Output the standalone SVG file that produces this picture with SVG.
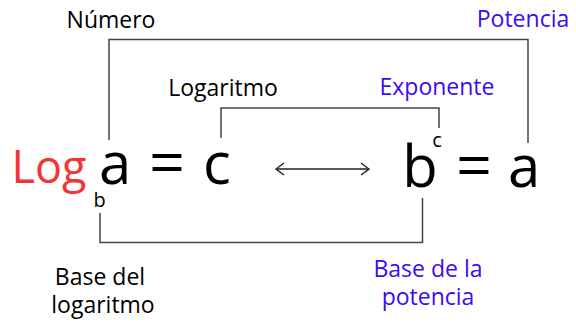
<svg xmlns="http://www.w3.org/2000/svg" width="576" height="322" viewBox="0 0 576 322">
<defs>
<style>
.lbl{font-family:"Open Sans","Noto Sans",sans-serif;font-size:23px;text-anchor:middle}
.blk{fill:#000}
.blu{fill:#3a0cf5}
.math{font-family:"Open Sans","Noto Sans",sans-serif;font-size:58px;fill:#000;text-anchor:middle}
.eq{font-size:63px}
.sm{font-family:"Open Sans","Noto Sans",sans-serif;font-size:20px;fill:#000;text-anchor:middle}
.br{fill:none;stroke:#444;stroke-width:1.5}
</style>
<marker id="ah" viewBox="0 0 10 14" refX="9" refY="7" markerWidth="10" markerHeight="14" markerUnits="userSpaceOnUse" orient="auto-start-reverse">
<path d="M1,1 L9,7 L1,13" fill="none" stroke="#222" stroke-width="1.4"/>
</marker>
</defs>
<rect width="576" height="322" fill="#fff"/>
<g id="connectors">
<path class="br" d="M109,140 V39.5 H528 V143"/>
<path class="br" d="M221,138 V108 H439 V128"/>
<path class="br" d="M100,213 V242.5 H422.5 V198"/>
<line x1="276" y1="169" x2="369" y2="169" stroke="#222" stroke-width="1.4" marker-start="url(#ah)" marker-end="url(#ah)"/>
</g>
<g id="numero"><text class="lbl blk" x="111" y="28">Número</text></g>
<g id="potencia"><text class="lbl blu" x="523" y="27">Potencia</text></g>
<g id="logaritmo"><text class="lbl blk" x="223" y="96">Logaritmo</text></g>
<g id="exponente"><text class="lbl blu" x="437" y="95">Exponente</text></g>
<g id="base-del-logaritmo"><text class="lbl blk" x="100" y="285">Base del</text><text class="lbl blk" x="103" y="313">logaritmo</text></g>
<g id="base-de-la-potencia"><text class="lbl blu" x="428" y="277">Base de la</text><text class="lbl blu" x="428" y="305">potencia</text></g>
<g id="log-eq">
<text x="49" y="183" font-family="Open Sans, Noto Sans, sans-serif" font-size="45" fill="#f43434" text-anchor="middle">Log</text>
<text class="sm" x="99.5" y="207">b</text>
<text class="math" x="115" y="184">a</text>
<text class="math eq" x="167" y="185">=</text>
<text class="math" x="217" y="184">c</text>
</g>
<g id="pow-eq">
<text class="math" x="420" y="187">b</text>
<text class="sm" x="437" y="147">c</text>
<text class="math eq" x="474" y="188">=</text>
<text class="math" x="524" y="187">a</text>
</g>
</svg>
